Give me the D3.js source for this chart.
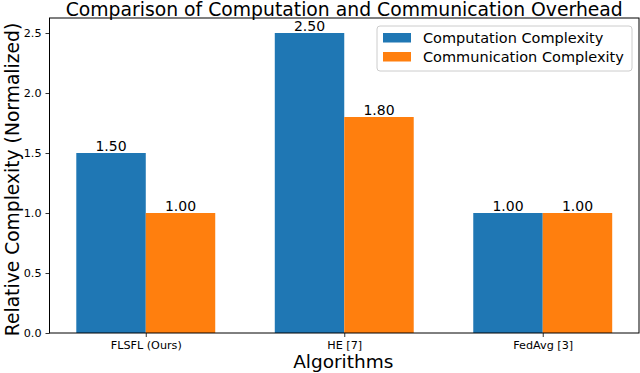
<!DOCTYPE html>
<html><head><meta charset="utf-8">
<script src="https://cdn.jsdelivr.net/npm/d3@7"></script>
<style>body{margin:0;background:#fff}svg{display:block;font-family:"DejaVu Sans",sans-serif}</style>
</head><body>
<svg id="c" width="640" height="373"></svg>
<script>
const categories = ["FLSFL (Ours)", "HE [7]", "FedAvg [3]"];
const computation = [1.5, 2.5, 1.0];
const communication = [1.0, 1.8, 1.0];
const seriesNames = ["Computation Complexity", "Communication Complexity"];
const colors = ["#1f77b4", "#ff7f0e"];
const yTicks = [0, 0.5, 1.0, 1.5, 2.0, 2.5];

const svg = d3.select("#c");
const L = 49.5, R = 639, T = 18, B = 333;
const barW = 0.35;
const x = d3.scaleLinear().domain([-0.485, 2.485]).range([L, R]);
const y = d3.scaleLinear().domain([0, 2.625]).range([B, T]);

const series = [computation, communication];
series.forEach((vals, si) => {
  const g = svg.append("g");
  vals.forEach((v, i) => {
    const x0 = x(i - barW + si * barW), x1 = x(i + si * barW);
    g.append("rect").attr("x", x0).attr("y", y(v)).attr("width", x1 - x0).attr("height", y(0) - y(v)).attr("fill", colors[si]);
    g.append("text").attr("x", (x0 + x1) / 2).attr("y", y(v) - 2).attr("text-anchor", "middle")
      .attr("font-size", 14).attr("fill", "#000").text(v.toFixed(2));
  });
});

// axes
const yAxis = d3.axisLeft(y).tickValues(yTicks).tickFormat(d3.format(".1f")).tickSize(4).tickPadding(4);
const ya = svg.append("g").attr("transform", `translate(${L},0)`).call(yAxis);
const xAxis = d3.axisBottom(x).tickValues([0, 1, 2]).tickFormat(i => categories[i]).tickSize(4).tickPadding(4);
const xa = svg.append("g").attr("transform", `translate(0,${B})`).call(xAxis);
[ya, xa].forEach(a => {
  a.select(".domain").remove();
  a.selectAll("text").attr("font-size", 11.2).attr("font-family", "DejaVu Sans").attr("fill", "#000");
  a.selectAll("line").attr("stroke", "#000").attr("stroke-width", 0.8);
});
svg.append("rect").attr("x", L).attr("y", T).attr("width", R - L).attr("height", B - T)
  .attr("fill", "none").attr("stroke", "#000").attr("stroke-width", 1);

// title & labels
svg.append("text").attr("x", (L + R) / 2).attr("y", 15.5).attr("text-anchor", "middle").attr("font-size", 18.8).text("Comparison of Computation and Communication Overhead");
svg.append("text").attr("x", (L + R) / 2 - 1).attr("y", 368).attr("text-anchor", "middle").attr("font-size", 18.5).text("Algorithms");
svg.append("text").attr("transform", `translate(19,${179.5}) rotate(-90)`).attr("text-anchor", "middle").attr("font-size", 18.7).text("Relative Complexity (Normalized)");

// legend
const lg = svg.append("g");
lg.append("rect").attr("x", 377).attr("y", 26).attr("width", 255).attr("height", 45).attr("rx", 3)
  .attr("fill", "#fff").attr("fill-opacity", 0.8).attr("stroke", "#ccc").attr("stroke-width", 1);
seriesNames.forEach((n, i) => {
  lg.append("rect").attr("x", 383).attr("y", 33 + i * 19).attr("width", 28).attr("height", 9.5).attr("fill", colors[i]);
  lg.append("text").attr("x", 423).attr("y", 43 + i * 19).attr("font-size", 14.5).text(n);
});
</script>
</body></html>
